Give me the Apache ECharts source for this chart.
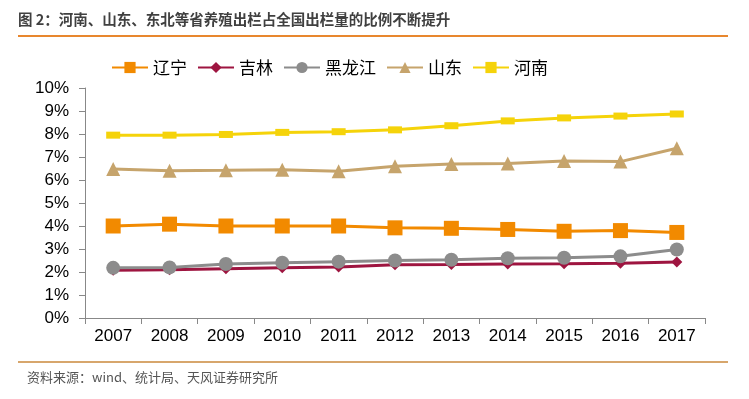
<!DOCTYPE html>
<html>
<head>
<meta charset="utf-8">
<script src="https://cdn.jsdelivr.net/npm/echarts@6/dist/echarts.min.js"></script>
<style>
  html, body { margin: 0; padding: 0; background: #fff; }
  #chart { width: 749px; height: 399px; }
</style>
</head>
<body>
<div id="chart"></div>
<script>
// categories and series values (percent)
const years = ['2007', '2008', '2009', '2010', '2011', '2012', '2013', '2014', '2015', '2016', '2017']
const liaoning = [4.0, 4.08, 4.0, 4.0, 4.0, 3.92, 3.9, 3.85, 3.77, 3.8, 3.72]
const jilin = [2.08, 2.1, 2.14, 2.18, 2.22, 2.32, 2.33, 2.35, 2.36, 2.38, 2.43]
const heilongjiang = [2.18, 2.2, 2.35, 2.4, 2.45, 2.5, 2.53, 2.6, 2.62, 2.68, 2.98]
const shandong = [6.48, 6.4, 6.42, 6.45, 6.38, 6.6, 6.7, 6.72, 6.83, 6.8, 7.38]
const henan = [7.95, 7.95, 7.98, 8.07, 8.1, 8.18, 8.36, 8.57, 8.7, 8.78, 8.87]

const titleText = '图 2：河南、山东、东北等省养殖出栏占全国出栏量的比例不断提升'
const sourceText = '资料来源：wind、统计局、天风证券研究所'

const chart = echarts.init(document.getElementById('chart'))

const mkSeries = (name, data, color, symbol, symbolSize) => ({
  name,
  type: 'line',
  data,
  symbol,
  symbolSize,
  showAllSymbol: true,
  lineStyle: { color, width: 3 },
  itemStyle: { color },
  emphasis: { disabled: true },
  animation: false
})

const option = {
  backgroundColor: '#fff',
  animation: false,
  textStyle: { fontFamily: 'Liberation Sans, Arial, Noto Sans CJK SC, sans-serif' },
  graphic: [
    {
      type: 'text', left: 18, top: 12,
      style: { text: titleText, fill: '#404040', font: 'bold 14.5px "Noto Sans CJK SC", sans-serif' }
    },
    {
      type: 'rect', shape: { x: 18, y: 35, width: 710, height: 2 },
      style: { fill: '#E8872E' }
    },
    {
      type: 'rect', shape: { x: 18, y: 361, width: 710, height: 2 },
      style: { fill: '#D7A66C' }
    },
    {
      type: 'text', left: 27, top: 371,
      style: { text: sourceText, fill: '#555', font: '13px "Noto Sans CJK SC", sans-serif' }
    }
  ],
  legend: {
    top: 54,
    left: 106,
    itemWidth: 36,
    itemHeight: 14,
    itemGap: 10,
    textStyle: { fontSize: 17, color: '#000', fontFamily: 'Noto Sans CJK SC, sans-serif' },
    data: ['辽宁', '吉林', '黑龙江', '山东', '河南']
  },
  grid: { left: 85, right: 44, top: 88, bottom: 81, containLabel: false },
  xAxis: {
    type: 'category',
    data: years,
    boundaryGap: true,
    axisLine: { lineStyle: { color: '#888', width: 1 } },
    axisTick: { show: true, alignWithLabel: false, length: 6, lineStyle: { color: '#888' } },
    axisLabel: { color: '#000', fontSize: 17, margin: 10 }
  },
  yAxis: {
    type: 'value',
    min: 0,
    max: 10,
    interval: 1,
    axisLine: { show: true, lineStyle: { color: '#888', width: 1 } },
    axisTick: { show: true, length: 6, lineStyle: { color: '#888' } },
    splitLine: { show: false },
    axisLabel: { color: '#000', fontSize: 17, margin: 16, formatter: v => v + '%' }
  },
  series: [
    mkSeries('辽宁', liaoning, '#F28A00', 'rect', 15),
    mkSeries('吉林', jilin, '#9E1540', 'diamond', 11),
    mkSeries('黑龙江', heilongjiang, '#8C8C8C', 'circle', 14),
    mkSeries('山东', shandong, '#C6A46C', 'triangle', 14),
    mkSeries('河南', henan, '#F5D30A', 'rect', [14, 7])
  ]
}

chart.setOption(option)
</script>
</body>
</html>
